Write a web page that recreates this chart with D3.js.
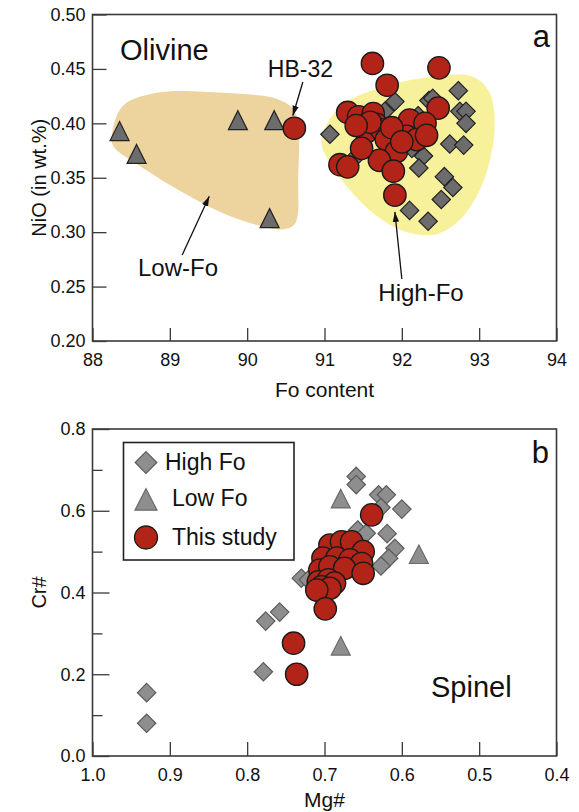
<!DOCTYPE html>
<html>
<head>
<meta charset="utf-8">
<script src="https://cdn.jsdelivr.net/npm/d3@7"></script>
<style>
  body { margin: 0; background: #fff; }
  svg text { font-family: "Liberation Sans", Arial, Helvetica, sans-serif; fill: #111; }
</style>
</head>
<body>
<svg id="chart" width="579" height="812"></svg>
<script>
// ---------- Olivine (panel a): [Fo content, NiO wt.%] ----------
const olivineHighFo = [
  [92.73, 0.430], [91.91, 0.420], [92.35, 0.421], [92.40, 0.423], [92.75, 0.411],
  [92.83, 0.411], [92.83, 0.400], [91.07, 0.390], [91.43, 0.371], [92.28, 0.370],
  [92.22, 0.359], [92.62, 0.381], [92.80, 0.380], [92.55, 0.351], [92.66, 0.341],
  [92.51, 0.330], [92.10, 0.320], [92.34, 0.310], [91.78, 0.411], [92.21, 0.407],
  [92.13, 0.377]
];
const olivineLowFo = [
  [88.35, 0.390], [88.57, 0.369], [89.88, 0.400], [90.35, 0.400], [90.29, 0.310]
];
const olivineThisStudy = [
  [91.62, 0.455], [92.48, 0.451], [91.81, 0.435], [92.47, 0.414], [91.30, 0.410],
  [91.44, 0.406], [91.63, 0.409], [91.54, 0.392], [91.67, 0.399], [91.74, 0.394],
  [91.80, 0.385], [92.10, 0.403], [92.30, 0.400], [92.06, 0.388], [92.19, 0.385],
  [92.32, 0.389], [91.93, 0.374], [91.71, 0.366], [91.89, 0.356], [91.20, 0.362],
  [91.30, 0.360], [91.91, 0.334], [91.48, 0.377], [91.59, 0.401], [91.87, 0.396],
  [92.00, 0.383], [91.41, 0.398], [90.61, 0.3955]
];
// outlines of the two olivine fields
const lowFoField = [
  [88.25, 0.383], [88.38, 0.415], [88.83, 0.428], [89.69, 0.428], [90.42, 0.4215],
  [90.62, 0.410], [90.66, 0.348], [90.62, 0.308], [90.47, 0.3027], [90.21, 0.305],
  [89.69, 0.3174], [89.04, 0.3418], [88.53, 0.3648], [88.31, 0.3755]
];
const highFoField = [
  [90.96, 0.3847], [91.20, 0.4153], [91.76, 0.4337], [92.40, 0.4429], [92.92, 0.4429],
  [93.14, 0.4277], [93.20, 0.4001], [93.16, 0.3725], [93.01, 0.3388], [92.75, 0.3112],
  [92.49, 0.299], [92.27, 0.2974], [91.98, 0.302], [91.63, 0.3174], [91.33, 0.3388],
  [91.07, 0.3633]
];
const foTicks = [88, 89, 90, 91, 92, 93, 94];
const nioTicks = [0.20, 0.25, 0.30, 0.35, 0.40, 0.45, 0.50];

// ---------- Spinel (panel b): [Mg#, Cr#] ----------
const spinelHighFo = [
  [0.930, 0.155], [0.930, 0.080], [0.779, 0.206], [0.659, 0.684], [0.659, 0.664],
  [0.630, 0.639], [0.620, 0.639], [0.627, 0.608], [0.600, 0.604], [0.657, 0.553],
  [0.646, 0.545], [0.619, 0.544], [0.609, 0.508], [0.617, 0.484], [0.627, 0.465],
  [0.730, 0.435], [0.721, 0.431], [0.776, 0.330], [0.758, 0.352]
];
const spinelLowFo = [
  [0.679, 0.622], [0.578, 0.486], [0.679, 0.262]
];
const spinelThisStudy = [
  [0.693, 0.516], [0.678, 0.524], [0.665, 0.524], [0.650, 0.500], [0.702, 0.484],
  [0.684, 0.484], [0.667, 0.480], [0.652, 0.471], [0.706, 0.455], [0.693, 0.463],
  [0.674, 0.459], [0.650, 0.447], [0.708, 0.426], [0.695, 0.431], [0.687, 0.423],
  [0.704, 0.414], [0.693, 0.410], [0.710, 0.406], [0.639, 0.590], [0.699, 0.360],
  [0.740, 0.276], [0.736, 0.200]
];
const mgTicks = [1.0, 0.9, 0.8, 0.7, 0.6, 0.5, 0.4];
const crTicksMajor = [0.0, 0.2, 0.4, 0.6, 0.8];
const crTicksMinor = [0.1, 0.3, 0.5, 0.7];
const legendItems = ["High Fo", "Low Fo", "This study"];

// ---------- styles ----------
const RED = "#b22418";
const FIELD_LOW = "#edd39e";
const FIELD_HIGH = "#f8f19c";
const FRAME = "#3a3a3a";
const Y_TITLE_X = 46;

const svg = d3.select("#chart");

// marker shapes
const diamondPath = r => `M0,${-r}L${r},0L0,${r}L${-r},0Z`;
const trianglePath = (w, h) => `M0,${-2 * h / 3}L${w / 2},${h / 3}L${-w / 2},${h / 3}Z`;

// arrowhead used by the annotations
svg.append("defs").append("marker")
  .attr("id", "arrowhead")
  .attr("viewBox", "0 0 10 8")
  .attr("refX", 10).attr("refY", 4)
  .attr("markerWidth", 10).attr("markerHeight", 8)
  .attr("markerUnits", "userSpaceOnUse")
  .attr("orient", "auto")
  .append("path").attr("d", "M0,0.8L10,4L0,7.2Z").attr("fill", "#111");

function styleAxis(g) {
  g.select(".domain").remove();
  g.selectAll(".tick line").attr("stroke", FRAME).attr("stroke-width", 1.3);
  g.selectAll(".tick text").attr("fill", "#111").attr("font-size", 18)
    .attr("font-family", '"Liberation Sans", Arial, sans-serif');
}

// ================= Panel a: Olivine =================
const A = { left: 92.5, right: 556.5, top: 14.5, bottom: 341 };
const xA = d3.scaleLinear().domain([88, 94]).range([A.left, A.right]);
const yA = d3.scaleLinear().domain([0.20, 0.50]).range([A.bottom, A.top]);
const gA = svg.append("g");

const fieldLine = d3.line().x(d => xA(d[0])).y(d => yA(d[1]))
  .curve(d3.curveCatmullRomClosed.alpha(0.5));
gA.append("path").attr("d", fieldLine(lowFoField)).attr("fill", FIELD_LOW);
gA.append("path").attr("d", fieldLine(highFoField)).attr("fill", FIELD_HIGH);

gA.append("g").attr("transform", `translate(0,${A.bottom})`)
  .call(d3.axisBottom(xA).tickValues(foTicks).tickFormat(d3.format("d"))
    .tickSize(-13).tickPadding(12))
  .call(styleAxis);
gA.append("g").attr("transform", `translate(${A.left},0)`)
  .call(d3.axisLeft(yA).tickValues(nioTicks).tickFormat(d3.format(".2f"))
    .tickSize(-14).tickPadding(7))
  .call(styleAxis);

gA.append("g").selectAll("path").data(olivineLowFo).join("path")
  .attr("transform", d => `translate(${xA(d[0])},${yA(d[1])})`)
  .attr("d", trianglePath(19, 19))
  .attr("fill", "#6c6c6c").attr("stroke", "#222").attr("stroke-width", 1.2);
gA.append("g").selectAll("path").data(olivineHighFo).join("path")
  .attr("transform", d => `translate(${xA(d[0])},${yA(d[1])})`)
  .attr("d", diamondPath(9.2))
  .attr("fill", "#6c6c6c").attr("stroke", "#222").attr("stroke-width", 1.2);
gA.append("g").selectAll("circle").data(olivineThisStudy).join("circle")
  .attr("cx", d => xA(d[0])).attr("cy", d => yA(d[1])).attr("r", 11.2)
  .attr("fill", RED).attr("stroke", "#1a1a1a").attr("stroke-width", 1.3);

gA.append("rect")
  .attr("x", A.left).attr("y", A.top)
  .attr("width", A.right - A.left).attr("height", A.bottom - A.top)
  .attr("fill", "none").attr("stroke", FRAME).attr("stroke-width", 1.6);

// annotations
const arrowsA = [
  { from: [90.72, 0.438], to: [90.59, 0.407] },   // HB-32
  { from: [89.16, 0.279], to: [89.51, 0.333] },   // Low-Fo
  { from: [92.00, 0.257], to: [91.91, 0.3186] }   // High-Fo
];
gA.append("g").selectAll("line").data(arrowsA).join("line")
  .attr("x1", d => xA(d.from[0])).attr("y1", d => yA(d.from[1]))
  .attr("x2", d => xA(d.to[0])).attr("y2", d => yA(d.to[1]))
  .attr("stroke", "#111").attr("stroke-width", 1.3)
  .attr("marker-end", "url(#arrowhead)");

gA.append("text").attr("x", 120).attr("y", 60).attr("font-size", 29).text("Olivine");
gA.append("text").attr("x", 550).attr("y", 47).attr("font-size", 31)
  .attr("text-anchor", "end").text("a");
gA.append("text").attr("x", 333).attr("y", 77).attr("font-size", 23)
  .attr("text-anchor", "end").text("HB-32");
gA.append("text").attr("x", 178).attr("y", 276).attr("font-size", 24)
  .attr("text-anchor", "middle").text("Low-Fo");
gA.append("text").attr("x", 421).attr("y", 301).attr("font-size", 24)
  .attr("text-anchor", "middle").text("High-Fo");

gA.append("text").attr("x", (A.left + A.right) / 2).attr("y", 397)
  .attr("font-size", 21).attr("text-anchor", "middle").text("Fo content");
gA.append("text")
  .attr("transform", `translate(${Y_TITLE_X},${(A.top + A.bottom) / 2}) rotate(-90)`)
  .attr("font-size", 20).attr("text-anchor", "middle").text("NiO (in wt.%)");

// ================= Panel b: Spinel =================
const B = { left: 92.5, right: 556.5, top: 429, bottom: 756 };
const xB = d3.scaleLinear().domain([1.0, 0.4]).range([B.left, B.right]);
const yB = d3.scaleLinear().domain([0.0, 0.8]).range([B.bottom, B.top]);
const gB = svg.append("g");

gB.append("g").attr("transform", `translate(0,${B.bottom})`)
  .call(d3.axisBottom(xB).tickValues(mgTicks).tickFormat(d3.format(".1f"))
    .tickSize(-14).tickPadding(12))
  .call(styleAxis);
gB.append("g").attr("transform", `translate(${B.left},0)`)
  .call(d3.axisLeft(yB).tickValues(crTicksMajor).tickFormat(d3.format(".1f"))
    .tickSize(-17).tickPadding(7))
  .call(styleAxis);
gB.append("g").attr("transform", `translate(${B.left},0)`)
  .call(d3.axisLeft(yB).tickValues(crTicksMinor).tickFormat("").tickSize(-10))
  .call(styleAxis);

gB.append("g").selectAll("path").data(spinelHighFo).join("path")
  .attr("transform", d => `translate(${xB(d[0])},${yB(d[1])})`)
  .attr("d", diamondPath(9.2))
  .attr("fill", "#8e8e8e").attr("stroke", "#5a5a5a").attr("stroke-width", 1.2);
gB.append("g").selectAll("path").data(spinelLowFo).join("path")
  .attr("transform", d => `translate(${xB(d[0])},${yB(d[1])})`)
  .attr("d", trianglePath(19, 18.5))
  .attr("fill", "#8e8e8e").attr("stroke", "#6a6a6a").attr("stroke-width", 1.2);
gB.append("g").selectAll("circle").data(spinelThisStudy).join("circle")
  .attr("cx", d => xB(d[0])).attr("cy", d => yB(d[1])).attr("r", 11.2)
  .attr("fill", RED).attr("stroke", "#1a1a1a").attr("stroke-width", 1.3);

gB.append("rect")
  .attr("x", B.left).attr("y", B.top)
  .attr("width", B.right - B.left).attr("height", B.bottom - B.top)
  .attr("fill", "none").attr("stroke", FRAME).attr("stroke-width", 1.6);

// legend
const lg = gB.append("g");
lg.append("rect").attr("x", 123.5).attr("y", 442.5).attr("width", 170.5).attr("height", 117.5)
  .attr("fill", "#fff").attr("stroke", "#222").attr("stroke-width", 1.6);
const legendRows = [
  { y: 462.5, tx: 165, ty: 469.5 },
  { y: 503, tx: 172, ty: 506 },
  { y: 537.5, tx: 172, ty: 545 }
];
lg.append("path").attr("transform", `translate(146,${legendRows[0].y})`)
  .attr("d", diamondPath(10.8)).attr("fill", "#8e8e8e").attr("stroke", "#5a5a5a").attr("stroke-width", 1.2);
lg.append("path").attr("transform", `translate(146,${legendRows[1].y})`)
  .attr("d", trianglePath(22, 21.5)).attr("fill", "#8e8e8e").attr("stroke", "#6a6a6a").attr("stroke-width", 1.2);
lg.append("circle").attr("cx", 146).attr("cy", legendRows[2].y).attr("r", 11.5)
  .attr("fill", RED).attr("stroke", "#1a1a1a").attr("stroke-width", 1.3);
lg.selectAll("text").data(legendItems).join("text")
  .attr("x", (d, i) => legendRows[i].tx).attr("y", (d, i) => legendRows[i].ty)
  .attr("font-size", 23).text(d => d);

gB.append("text").attr("x", 549).attr("y", 463).attr("font-size", 31)
  .attr("text-anchor", "end").text("b");
gB.append("text").attr("x", 431).attr("y", 697).attr("font-size", 29).text("Spinel");

gB.append("text").attr("x", (B.left + B.right) / 2).attr("y", 807)
  .attr("font-size", 21).attr("text-anchor", "middle").text("Mg#");
gB.append("text")
  .attr("transform", `translate(${Y_TITLE_X},${(B.top + B.bottom) / 2}) rotate(-90)`)
  .attr("font-size", 20).attr("text-anchor", "middle").text("Cr#");
</script>
</body>
</html>
